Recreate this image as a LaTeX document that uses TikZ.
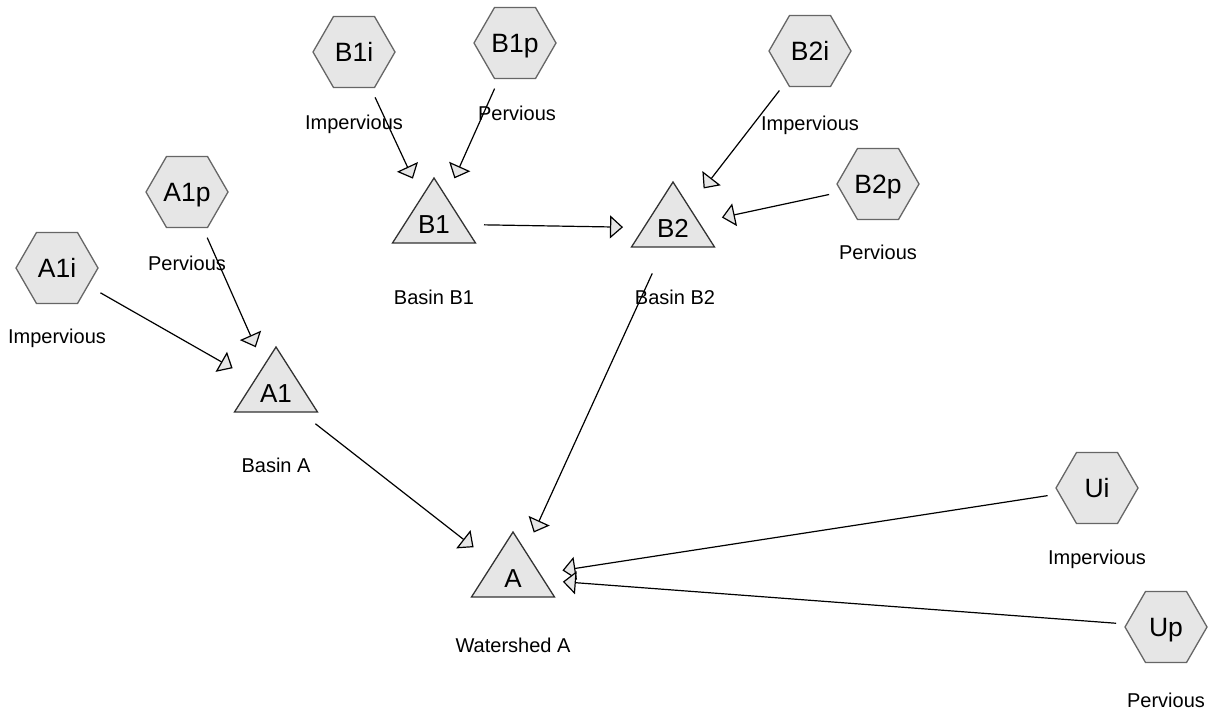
\documentclass[tikz,border=0pt]{standalone}
\usepackage{fontspec}
\setmainfont{Liberation Sans}
\usetikzlibrary{shapes.geometric,arrows.meta,backgrounds}
\definecolor{shapefill}{HTML}{E6E6E6}
\definecolor{hexline}{HTML}{666666}
\tikzset{
  area/.style={regular polygon, regular polygon sides=6, minimum size=82pt, inner sep=0pt,
    draw=hexline, line width=1.3pt, fill=shapefill,
    font=\fontsize{26.5}{30}\selectfont, text height=19pt, text depth=0pt},
  basin/.style={inner sep=0pt, font=\fontsize{26}{30}\selectfont, text height=18.6pt, text depth=0pt},
  tribox/.style={draw=black!80, line width=1.3pt, fill=shapefill},
  caption/.style={inner sep=0pt, font=\fontsize{20}{24}\selectfont, text height=14.3pt, text depth=0pt},
  flow/.style={line width=1.2pt, shorten <=50pt, shorten >=50pt,
    -{Triangle[length=13pt,width=23pt,fill=shapefill]}}
}
\begin{document}
\begin{tikzpicture}[x=1pt, y=-1pt]
\useasboundingbox (0,0) rectangle (1212,709);
% sub-areas
\node[area] (A1i) at (57,268) {A1i};
\node[area] (A1p) at (187,192) {A1p};
\node[area] (B1i) at (354,52) {B1i};
\node[area] (B1p) at (515,43) {B1p};
\node[area] (B2i) at (810,51) {B2i};
\node[area] (B2p) at (878,184) {B2p};
\node[area] (Ui) at (1097,488) {Ui};
\node[area] (Up) at (1166,627) {Up};
% basins
\node[basin] (A1) at (276,393) {A1};
\node[basin] (B1) at (434,224) {B1};
\node[basin] (B2) at (673,228) {B2};
\node[basin] (A) at (513,578) {A};
\begin{scope}[on background layer]
\foreach \b in {A1,B1,B2,A}
  \draw[tribox] (\b) ++(-41.5,19) -- ++(83,0) -- ++(-41.5,-65) -- cycle;
\end{scope}
% captions
\node[caption] (A1i-c) at (57,336) {Impervious};
\node[caption] (A1p-c) at (187,263) {Pervious};
\node[caption] (B1i-c) at (354,122) {Impervious};
\node[caption] (B1p-c) at (517,113) {Pervious};
\node[caption] (B2i-c) at (810,123) {Impervious};
\node[caption] (B2p-c) at (878,252) {Pervious};
\node[caption] (Ui-c) at (1097,557) {Impervious};
\node[caption] (Up-c) at (1166,700) {Pervious};
\node[caption] (A1-c) at (276,465) {Basin A};
\node[caption] (B1-c) at (434,297) {Basin B1};
\node[caption] (B2-c) at (675,297) {Basin B2};
\node[caption] (A-c) at (513,645) {Watershed A};
% flows
\foreach \s/\t in {A1i/A1, A1p/A1, B1i/B1, B1p/B1, B1/B2, B2i/B2, B2p/B2, B2/A, A1/A, Ui/A, Up/A}
  \draw[flow] (\s.center) -- (\t.center);
\end{tikzpicture}
\end{document}
